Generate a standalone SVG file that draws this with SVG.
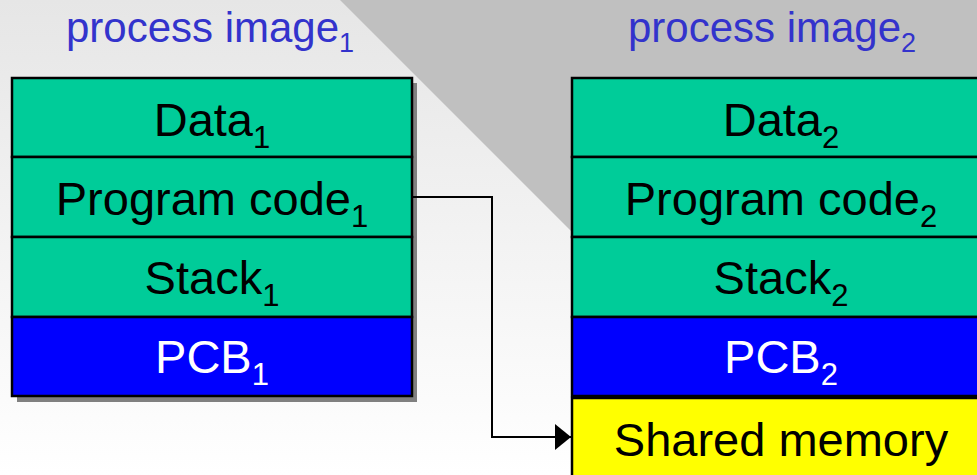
<svg xmlns="http://www.w3.org/2000/svg" width="977" height="475" viewBox="0 0 977 475">
  <defs>
    <linearGradient id="bg" x1="0" y1="0" x2="0" y2="1">
      <stop offset="0" stop-color="#e6e6e6"/>
      <stop offset="1" stop-color="#ffffff"/>
    </linearGradient>
    <marker id="arrow" markerWidth="16" markerHeight="26" refX="16" refY="13" orient="auto" markerUnits="userSpaceOnUse">
      <path d="M0,0 L16,13 L0,26 Z" fill="#000"/>
    </marker>
    <style>
      .title { font-family: "Liberation Sans", Arial, sans-serif; font-size: 42px; fill: #3333cc; text-anchor: middle; }
      .lbl { font-family: "Liberation Sans", Arial, sans-serif; font-size: 47px; fill: #000; text-anchor: middle; }
      .lblw { font-family: "Liberation Sans", Arial, sans-serif; font-size: 47px; fill: #fff; text-anchor: middle; }
      .sub { font-size: 31px; }
      .tsub { font-size: 27px; }
      .green { fill: #00cc99; stroke: #000; stroke-width: 2.5; }
      .blue { fill: #0000ff; stroke: #000; stroke-width: 2.5; }
      .yellow { fill: #ffff00; stroke: #000; stroke-width: 2.5; }
      .conn { fill: none; stroke: #000; stroke-width: 2; }
    </style>
  </defs>

  <rect x="0" y="0" width="977" height="475" fill="url(#bg)"/>
  <polygon points="340,0 977,0 977,250 590,250" fill="#c0c0c0"/>

  <g id="title1"><text class="title" x="210" y="42">process image<tspan class="tsub" dy="10">1</tspan></text></g>
  <g id="title2"><text class="title" x="772" y="42">process image<tspan class="tsub" dy="10">2</tspan></text></g>

  <g id="process1">
    <rect x="17" y="83" width="400" height="319" fill="#808080"/>
    <g id="data1">
      <rect class="green" x="12" y="78" width="400" height="79"/>
      <text class="lbl" x="212" y="136">Data<tspan class="sub" dy="12">1</tspan></text>
    </g>
    <g id="code1">
      <rect class="green" x="12" y="157" width="400" height="80"/>
      <text class="lbl" x="212" y="215">Program code<tspan class="sub" dy="12">1</tspan></text>
    </g>
    <g id="stack1">
      <rect class="green" x="12" y="237" width="400" height="80"/>
      <text class="lbl" x="212" y="294">Stack<tspan class="sub" dy="12">1</tspan></text>
    </g>
    <g id="pcb1">
      <rect class="blue" x="12" y="317" width="400" height="79"/>
      <text class="lblw" x="212" y="373">PCB<tspan class="sub" dy="12">1</tspan></text>
    </g>
  </g>

  <g id="process2">
    <g id="data2">
      <rect class="green" x="572" y="78" width="420" height="79"/>
      <text class="lbl" x="781" y="136">Data<tspan class="sub" dy="12">2</tspan></text>
    </g>
    <g id="code2">
      <rect class="green" x="572" y="157" width="420" height="80"/>
      <text class="lbl" x="781" y="215">Program code<tspan class="sub" dy="12">2</tspan></text>
    </g>
    <g id="stack2">
      <rect class="green" x="572" y="237" width="420" height="80"/>
      <text class="lbl" x="781" y="294">Stack<tspan class="sub" dy="12">2</tspan></text>
    </g>
    <g id="pcb2">
      <rect class="blue" x="572" y="317" width="420" height="79"/>
      <text class="lblw" x="781" y="373">PCB<tspan class="sub" dy="12">2</tspan></text>
    </g>
    <g id="shared">
      <rect class="yellow" x="572" y="398" width="420" height="100"/>
      <text class="lbl" x="781" y="456">Shared memory</text>
    </g>
  </g>

  <g id="connectors">
    <path class="conn" d="M413,197 H492 V437 H571" marker-end="url(#arrow)"/>
  </g>
</svg>
